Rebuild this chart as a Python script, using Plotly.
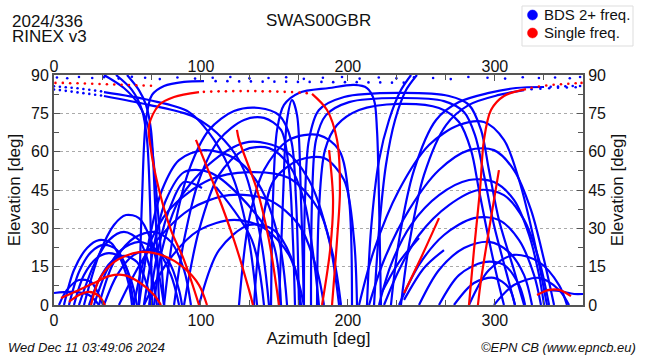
import plotly.graph_objects as go

# ---------------- data: satellite tracks as (azimuth deg, elevation deg) ----------------
# BDS 2+ frequency tracks (blue), solid parts
bL1 = [(0, 4.7), (13.6, 5.1), (23.8, 3.9), (30.6, 0)]
bL2 = [(333.5, 5.9), (343.7, 5.5), (353.9, 4.3), (360, 4.3)]
bLa = [(6.8, 0), (13.6, 13.7), (22.5, 22.3), (30.6, 25.4), (38.8, 24.3), (45.6, 17.6), (51, 7.8), (53.1, 0)]
bLb = [(10.2, 0), (17, 12.9), (25.2, 20.7), (34, 23.5), (42.9, 21.5), (49.7, 13.7), (54.4, 0)]
bLc = [(13.6, 0), (20.4, 11.7), (29.3, 18.4), (37.4, 20.3), (45.6, 18.4), (52.4, 9.8), (56.5, 0)]
bLd = [(17, 0), (27.2, 15.7), (37.4, 25.4), (47.6, 28.6), (57.8, 25.4), (64.7, 15.7), (70.1, 0)]
bLe = [(20.4, 0), (30.6, 19.6), (40.8, 31.3), (49, 35.2), (57.8, 34.0), (66, 25.4), (71.5, 11.7), (74.9, 0)]
bLf = [(23.8, 0), (30.6, 9.8), (38.8, 16.8), (47.6, 19.2), (56.5, 16.8), (63.3, 7.8), (66, 0)]
bLg = [(3.4, 0), (8.8, 5.9), (17, 9.8), (25.2, 9.0), (30.6, 3.9), (33.3, 0)]
bLh = [(27.2, 0), (36.1, 13.7), (45.6, 21.5), (57.8, 24.7), (70.1, 21.5), (79.6, 11.7), (85.1, 0)]
bLi = [(30.6, 0), (40.8, 16.8), (54.4, 26.2), (68.1, 28.6), (79.6, 24.7), (88.5, 13.7), (93.2, 0)]
bLj = [(34, 0), (42.9, 11.7), (54.4, 19.6), (68.1, 21.5), (78.3, 16.8), (85.1, 5.9), (87.1, 0)]
bS1 = [(42.2, 90), (53.1, 84.1), (59.9, 76.3), (63.3, 64.6), (65.3, 41.1), (66.7, 0)]
bS2 = [(49.7, 90), (57.8, 84.1), (62.6, 78.3), (66, 68.5), (68.7, 41.1), (71.5, 0)]
bS3 = [(57.8, 0), (59.9, 41.1), (62.6, 72.4), (66.7, 82.2), (74.9, 85.7), (88.5, 87.3), (102.1, 87.6)]
bS4 = [(34, 90), (47.6, 84.9), (57.8, 78.3), (64.7, 68.5), (70.1, 41.1), (74.9, 0)]
bD1 = [(34, 83.3), (64.7, 80.2), (91.9, 75.5), (108.9, 64.6), (122.5, 48.9), (132.7, 25.4), (138.2, 0)]
bD2 = [(34, 81.8), (64.7, 78.3), (95.3, 73.6), (115.7, 64.6), (129.3, 52.8), (140.9, 25.4), (146.3, 0)]
bC1 = [(74.9, 0), (81.7, 29.3), (91.9, 52.8), (105.5, 68.5), (122.5, 75.9), (139.5, 77.1), (153.1, 74.3),
       (161.3, 64.6), (164.7, 41.1), (166.7, 0)]
bC2 = [(81.7, 0), (88.5, 25.4), (98.7, 48.9), (112.3, 64.6), (129.3, 72.4), (142.9, 73.2), (154.5, 68.5),
       (159.9, 52.8), (162.6, 25.4), (164, 0)]
bC3 = [(88.5, 0), (98.7, 29.3), (112.3, 50.9), (129.3, 60.6), (146.3, 61.4), (159.9, 54.8), (170.1, 41.1),
       (176.9, 17.6), (180.3, 0)]
bC4 = [(68.1, 0), (73.5, 21.5), (85.1, 41.1), (108.9, 56.7), (132.7, 63.8), (156.5, 60.6), (173.5, 48.9),
       (187.2, 25.4), (194, 0)]
bC5 = [(54.4, 0), (63.3, 21.5), (78.3, 37.2), (105.5, 48.9), (132.7, 52), (159.9, 49.7), (180.3, 37.2),
       (190.6, 17.6), (195.3, 0)]
bC6 = [(44.2, 0), (64.7, 21.5), (91.9, 37.2), (119.1, 43), (146.3, 41.1), (166.7, 31.3), (179, 13.7), (183.7, 0)]
bC7 = [(61.2, 0), (78.3, 17.6), (98.7, 29.3), (122.5, 33.3), (142.9, 30.1), (159.9, 19.6), (170.1, 0)]
bC8 = [(98.7, 0), (112.3, 21.5), (132.7, 31.3), (149.7, 29.3), (163.3, 15.7), (168.1, 0)]
bC9 = [(57.8, 0), (64.7, 25.4), (73.5, 45), (85.1, 56.7), (102.1, 60.6), (122.5, 57.5), (139.5, 47),
       (153.1, 25.4), (158.6, 0)]
bC10 = [(61.2, 0), (68.1, 23.5), (76.2, 41.1), (88.5, 52), (105.5, 52), (125.9, 43), (148.4, 25.4), (154.5, 0)]
bC11 = [(64.7, 0), (71.5, 23.5), (79.6, 39.1), (88.5, 48.1), (100.7, 45.8)]
bC12 = [(110.2, 46.2), (134.7, 25.4), (142.9, 0)]
bN0 = [(153.1, 0), (155.8, 41.1), (158.6, 72.4), (162, 80.2), (165.4, 74.3), (168.1, 41.1), (170.1, 0)]
bN1 = [(147.7, 0), (149, 41.1), (151.8, 68.5), (156.5, 78.3), (166.7, 83), (187.2, 84.9), (204.2, 86.1),
       (213, 84.9), (217.8, 80.2), (219.8, 68.5), (221.2, 41.1), (222.5, 0)]
bW1 = [(170.1, 0), (170.8, 41.1), (173.5, 64.6), (180.3, 76.3), (197.4, 81.4), (234.8, 83), (268.8, 81.8),
       (282.4, 78.3), (290.6, 68.5), (296, 52.8), (302.8, 33.3), (313, 13.7), (319.9, 0)]
bW2 = [(174.9, 0), (175.6, 41.1), (178.3, 64.6), (185.1, 74.3), (200.8, 79.4), (234.8, 81), (265.4, 79.8),
       (279, 75.5), (286.5, 66.5), (292.6, 50.9), (299.4, 31.3), (308.3, 11.7), (313.7, 0)]
bW3 = [(179, 0), (180.3, 37.2), (184.4, 60.6), (192.6, 70.4), (207.6, 76.3), (234.8, 78.7), (262, 77.1),
       (275.6, 71.6), (283.8, 60.6), (289.2, 45), (296, 25.4), (302.8, 7.8), (306.2, 0)]
bP1 = [(213, 0), (215.7, 29.3), (221.2, 56.7), (228, 72.4), (236.1, 84.1), (243, 90)]
bP2 = [(217.8, 0), (221.2, 29.3), (225.9, 54.8), (232.1, 72.4), (239.6, 84.1), (247, 90)]
bV2 = [(125.9, 0), (132.7, 33.3), (142.9, 52.8), (159.9, 64.6), (180.3, 66.5), (194, 60.6), (200.8, 41.1), (202.8, 0)]
bV3 = [(136.1, 0), (140.9, 29.3), (149.7, 48.9), (166.7, 56.7), (183.7, 57.5), (197.4, 48.9), (204.2, 25.4), (206.2, 0)]
bE1 = [(224.6, 0), (234.8, 13.7), (248.4, 27.4), (268.8, 39.1), (289.2, 45), (306.2, 43), (319.9, 33.3),
       (330.1, 17.6), (336.9, 0)]
bE2 = [(234.8, 0), (248.4, 15.7), (265.4, 27.4), (285.8, 34), (302.8, 33.3), (316.5, 25.4), (326.7, 11.7), (331.4, 0)]
bE3 = [(248.4, 0), (262, 13.7), (279, 22.3), (296, 24.7), (309.6, 20.7), (319.9, 11.7), (325.3, 0)]
bE4 = [(262, 0), (275.6, 11.7), (292.6, 16.8), (306.2, 15.7), (316.5, 7.8), (320.6, 0)]
bE5 = [(272.2, 0), (285.8, 8.6), (299.4, 10.6), (309.6, 6.7), (313.7, 0)]
bE6 = [(214.4, 0), (224.6, 17.6), (241.6, 37.2), (262, 52.8), (282.4, 60.6), (299.4, 60.6), (313, 52.8),
       (324.6, 37.2), (333.5, 17.6), (340.3, 0)]
bE7 = [(207.6, 0), (217.8, 21.5), (234.8, 45), (255.2, 62.6), (275.6, 70.4), (292.6, 71.6), (306.2, 64.6),
       (316.5, 48.9), (326.7, 25.4), (335.5, 0)]
bE8 = [(282.4, 0), (296, 13.7), (313, 19.6), (330.1, 16.8), (343.7, 7.8), (349.1, 0)]
bE9 = [(299.4, 0), (313, 7.8), (330.1, 10.6), (343.7, 5.9), (350.5, 0)]
bE10 = [(221.2, 0), (229.3, 15.7), (242.9, 31.3), (262, 43), (282.4, 48.9), (299.4, 48.1), (313, 41.1),
        (323.3, 27.4), (330.1, 11.7), (333.5, 0)]
bT1 = [(229.3, 0), (234.8, 25.4), (245, 52.8), (260, 72.4), (275.6, 79.4), (296, 83), (314.4, 84.9), (333.5, 85.3)]
bT2 = [(236.1, 0), (241.6, 23.5), (251.8, 50.9), (266.8, 70.4), (282.4, 78.3), (302.8, 82.2), (319.9, 84.1)]
bF1 = [(223.2, 5.1), (234.8, 16.8), (248.4, 26.2)]
bF2 = [(238.2, 2), (251.8, 14.5), (265.4, 21.5)]

blue_tracks = [bL1, bL2, bLa, bLb, bLc, bLd, bLe, bLf, bLg, bLh, bLi, bLj, bS1, bS2, bS3, bS4, bD1, bD2,
               bC1, bC2, bC3, bC4, bC5, bC6, bC7, bC8, bC9, bC10, bC11, bC12, bN0, bN1, bW1, bW2, bW3,
               bP1, bP2, bV2, bV3, bE1, bE2, bE3, bE4, bE5, bE6, bE7, bE8, bE9, bE10, bT1, bT2, bF1, bF2]

# single-frequency tracks (red), solid parts
rA1 = [(98.7, 0), (88.5, 17.6), (79.6, 29.3), (71.5, 45), (66, 60.6), (64.7, 70.4), (71.5, 78.3), (81.7, 81.4), (98.7, 83.3)]
rA2 = [(175.6, 82.6), (185.8, 76.3), (192.6, 64.6), (194.6, 45), (192.6, 25.4), (189.2, 0)]
rB = [(187.2, 60.6), (189.9, 41.1), (187.9, 21.5), (182.4, 0)]
rC = [(96.6, 64.6), (110.2, 45), (122.5, 25.4), (132.7, 5.9), (135.4, 0)]
rD = [(124.5, 68.5), (125.9, 64.6), (138.2, 45), (146.3, 25.4), (153.1, 0)]
rE = [(282.4, 0), (285.8, 21.5), (289.9, 45), (292.6, 64.6), (297.4, 76.3), (306.2, 81.8), (321.2, 84.5)]
rF = [(302.8, 52.8), (296, 29.3), (290.6, 9.8), (288.5, 0)]
rG = [(238.2, 4.7), (248.4, 16.8), (262, 34)]
r1 = [(4.8, 2.7), (17, 5.9), (27.2, 8.6), (37.4, 11.3), (47.6, 11.7), (57.8, 9), (68.1, 3.9), (72.8, 0)]
r2 = [(25.2, 0), (30.6, 9.8), (40.8, 16.8), (57.8, 20.7), (74.9, 19.2), (88.5, 14.5), (98.7, 7.8), (104.1, 0)]
r3 = [(10.2, 1.2), (17, 3.9), (23.8, 5.1), (30.6, 3.5), (34.7, 0)]
r4 = [(328.7, 3.9), (336.9, 5.9), (343.7, 5.9), (348.4, 4.7), (351.8, 3.5)]

red_tracks = [rA1, rA2, rB, rC, rD, rE, rF, rG, r1, r2, r3, r4]

# sparse near-zenith samples (drawn as points)
blue_dot_az = [2, 9, 17, 26, 34, 44, 53, 62, 72, 84, 96, 108, 120, 133, 146, 158, 170, 183, 196, 208, 221,
               233, 245, 258, 270, 282, 295, 307, 319, 330, 341, 351, 358,
               0, 4, 8, 12, 16, 20, 24, 28, 32,
               0, 4, 8, 12, 16, 20, 24, 28, 32,
               110, 118, 126, 134, 142, 150, 158, 166, 174, 182, 190, 198, 206, 214, 222, 230, 238,
               338, 343, 348, 353, 358,
               325, 331, 337, 343, 349, 355]
blue_dot_el = [89.0, 88.7, 89.2, 88.8, 89.1, 88.6, 89.3, 88.9, 88.4, 89.0, 88.6, 88.9, 89.2, 88.7, 88.8, 89.1,
               88.5, 88.9, 89.2, 88.6, 89.0, 88.7, 89.1, 88.8, 88.4, 89.2, 88.9, 88.6, 89.1, 88.8, 89.0, 88.7, 89.2,
               85.6, 85.4, 85.2, 85.0, 84.8, 84.5, 84.2, 83.9, 83.6,
               84.3, 84.1, 83.8, 83.5, 83.2, 82.9, 82.6, 82.3, 82.0,
               87.6, 87.6, 87.5, 87.5, 87.4, 87.4, 87.4, 87.3, 87.3, 87.3, 87.2, 87.2, 87.2, 87.1, 87.1, 87.0, 87.0,
               85.4, 85.5, 85.6, 85.7, 85.7,
               84.4, 84.6, 84.8, 85.0, 85.1, 85.2]
red_dot_az = [1, 6, 11, 16, 21, 26, 31, 36, 41, 46, 51, 56, 61, 66,
              102, 107, 112, 117, 122, 127, 132, 137, 142, 147, 152, 157, 162, 167, 172,
              325, 330, 335, 340, 345, 350, 355, 359]
red_dot_el = [86.9, 86.9, 86.8, 86.8, 86.7, 86.6, 86.5, 86.4, 86.3, 86.2, 86.1, 86.0, 85.9, 85.8,
              83.4, 83.5, 83.6, 83.6, 83.7, 83.7, 83.7, 83.7, 83.6, 83.6, 83.5, 83.4, 83.3, 83.1, 82.9,
              85.0, 85.5, 85.9, 86.2, 86.4, 86.6, 86.8, 86.9]

legend_labels = ["BDS 2+ freq.", "Single freq."]
x_ticks = [0, 100, 200, 300]
y_ticks = [0, 15, 30, 45, 60, 75, 90]

# ---------------- styling ----------------
BLUE = "#0000ff"
RED = "#ff0000"
FONT = "Liberation Sans, Arial, Helvetica, sans-serif"
TXT = "#111111"
AX = "#555555"
LW = 2.2

fig = go.Figure()
for tr in blue_tracks:
    fig.add_trace(go.Scatter(x=[p[0] for p in tr], y=[p[1] for p in tr], mode="lines",
                             line=dict(color=BLUE, width=LW, shape="spline", smoothing=0.9),
                             showlegend=False, hoverinfo="skip"))
fig.add_trace(go.Scatter(x=blue_dot_az, y=blue_dot_el, mode="markers",
                         marker=dict(color=BLUE, size=2.6), showlegend=False, hoverinfo="skip"))
for tr in red_tracks:
    fig.add_trace(go.Scatter(x=[p[0] for p in tr], y=[p[1] for p in tr], mode="lines",
                             line=dict(color=RED, width=LW, shape="spline", smoothing=0.9),
                             showlegend=False, hoverinfo="skip"))
fig.add_trace(go.Scatter(x=red_dot_az, y=red_dot_el, mode="markers",
                         marker=dict(color=RED, size=2.6), showlegend=False, hoverinfo="skip"))
fig.add_trace(go.Scatter(x=[None], y=[None], xaxis="x2", yaxis="y2", showlegend=False))

axis_common = dict(showline=True, linecolor=AX, linewidth=2, ticks="inside",
                   tickcolor=AX, ticklen=6, tickwidth=1, automargin=False,
                   tickfont=dict(family=FONT, size=16, color=TXT), zeroline=False)
minor_x = dict(dtick=100 / 3, tick0=0, ticks="inside", ticklen=5, tickcolor=AX, showgrid=False)
minor_y = dict(dtick=7.5, tick0=0, ticks="inside", ticklen=5, tickcolor=AX, showgrid=False)
title_font = dict(family=FONT, size=17, color=TXT)

fig.update_layout(
    width=650, height=360,
    margin=dict(l=54, r=67, t=75, b=55, autoexpand=False),
    paper_bgcolor="white", plot_bgcolor="white",
    showlegend=False,
    xaxis=dict(range=[0, 360], tickvals=x_ticks, showgrid=False, minor=minor_x,
               title=dict(text="Azimuth [deg]", font=title_font, standoff=0), **axis_common),
    xaxis2=dict(range=[0, 360], tickvals=x_ticks, overlaying="x", side="top", showgrid=False,
                minor=minor_x, ticklabelstandoff=-5, **axis_common),
    yaxis=dict(range=[0, 90], tickvals=y_ticks, showgrid=True, gridcolor="#aaaaaa", griddash="dot",
               gridwidth=1, minor=minor_y,
               title=dict(text="Elevation [deg]", font=title_font, standoff=6), **axis_common),
    yaxis2=dict(range=[0, 90], tickvals=y_ticks, overlaying="y", side="right", showgrid=False,
                minor=minor_y,
                title=dict(text="Elevation [deg]", font=title_font, standoff=6), **axis_common),
)

def px_x(px):
    return (px - 54) / 529.0

def px_y(py):
    return (305 - py) / 230.0

# header texts
fig.add_annotation(text="2024/336", xref="paper", yref="paper", x=px_x(10), y=px_y(21),
                   xanchor="left", yanchor="middle", showarrow=False, font=dict(family=FONT, size=17, color=TXT))
fig.add_annotation(text="RINEX v3", xref="paper", yref="paper", x=px_x(10), y=px_y(36.5),
                   xanchor="left", yanchor="middle", showarrow=False, font=dict(family=FONT, size=17, color=TXT))
fig.add_annotation(text="SWAS00GBR", xref="paper", yref="paper", x=0.5, y=px_y(20),
                   xanchor="center", yanchor="middle", showarrow=False, font=dict(family=FONT, size=17, color=TXT))
# footer texts
fig.add_annotation(text="<i>Wed Dec 11 03:49:06 2024</i>", xref="paper", yref="paper", x=px_x(6), y=px_y(347),
                   xanchor="left", yanchor="middle", showarrow=False, font=dict(family=FONT, size=13, color=TXT))
fig.add_annotation(text="<i>©EPN CB (www.epncb.eu)</i>", xref="paper", yref="paper", x=px_x(638), y=px_y(347),
                   xanchor="right", yanchor="middle", showarrow=False, font=dict(family=FONT, size=13, color=TXT))

# legend box (drawn manually to match size)
fig.add_shape(type="rect", xref="paper", yref="paper", x0=px_x(522), x1=px_x(633), y0=px_y(46), y1=px_y(6),
              line=dict(color="#dddddd", width=1), fillcolor="white", layer="above")
for i, (lab, col) in enumerate(zip(legend_labels, [BLUE, RED])):
    cy = 15 + 18 * i
    fig.add_shape(type="circle", xref="paper", yref="paper", x0=px_x(527.5), x1=px_x(537.5),
                  y0=px_y(cy + 5), y1=px_y(cy - 5), fillcolor=col, line=dict(color=col, width=0.5),
                  layer="above")
    fig.add_annotation(text=lab, xref="paper", yref="paper", x=px_x(542), y=px_y(cy),
                       xanchor="left", yanchor="middle", showarrow=False,
                       font=dict(family=FONT, size=15, color=TXT))

fig.write_html("out.html", config={"displayModeBar": False},
               post_script="document.body.style.margin='0px';")
